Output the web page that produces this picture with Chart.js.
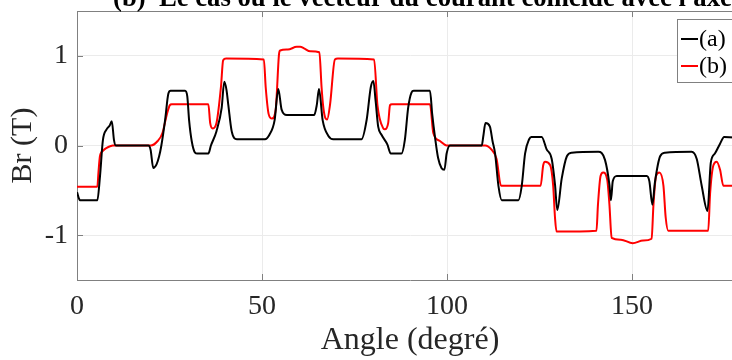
<!DOCTYPE html>
<html>
<head>
<meta charset="utf-8">
<script src="https://cdn.jsdelivr.net/npm/chart.js@4/dist/chart.umd.min.js"></script>
<style>
  html, body { margin: 0; padding: 0; overflow: hidden; background: #fff; }
  canvas { display: block; }
</style>
</head>
<body>
<canvas id="brChart" width="760" height="360"></canvas>
<script>
// Data (angle in degrees, Br in tesla)
const angleA = [0, 0.8, 5.5, 6.2, 7.0, 8.0, 8.8, 9.4, 10.0, 10.5, 19.3, 19.9, 20.6, 21.5, 22.2, 22.8, 23.8, 24.7, 25.3,
  29.2, 29.8, 30.3, 31.0, 31.9, 32.5, 35.5, 36.2, 37.7, 39.1, 39.8, 40.4, 40.9, 41.8, 43.2, 50.8, 52.0, 53.4, 54.4,
  55.3, 56.7, 64.1, 64.8, 65.4, 66.4, 67.9, 69.3, 76.9, 78.3, 79.4, 80.1, 80.7, 81.4, 82.3, 83.9, 84.8, 87.7, 88.6,
  89.5, 90.4, 91.0, 95.4, 96.0, 96.8, 97.6, 98.5, 99.3, 99.9, 100.8, 109.4, 109.8, 110.4, 111.6, 112.3, 113.0, 113.9,
  114.8, 119.3, 120.2, 121.1, 122.2, 122.8, 125.6, 126.9, 128.3, 129.2, 129.8, 131.0, 132.4, 133.7, 140.9, 142.7,
  143.9, 144.3, 144.8, 145.9, 154.0, 154.7, 155.5, 156.2, 157.6, 158.9, 166.1, 167.5, 168.8, 170.4, 171.3, 172.4,
  173.8, 174.9, 177.7, 178.6, 179.5, 180];
const brA = [-0.52, -0.61, -0.61, -0.35, 0.06, 0.18, 0.22, 0.27, 0.06, 0.0, 0.0, -0.05, -0.25, -0.21, -0.12, 0.0, 0.28, 0.58, 0.61,
  0.61, 0.55, 0.28, 0.05, -0.08, -0.09, -0.09, 0.0, 0.16, 0.42, 0.71, 0.62, 0.45, 0.16, 0.07, 0.07, 0.12, 0.28, 0.63,
  0.40, 0.34, 0.34, 0.45, 0.63, 0.28, 0.11, 0.07, 0.07, 0.29, 0.65, 0.72, 0.50, 0.21, 0.12, 0.01, -0.09, -0.09, 0.06,
  0.42, 0.59, 0.61, 0.61, 0.35, 0.08, -0.14, -0.25, -0.27, -0.09, 0.0, 0.0, 0.10, 0.25, 0.21, 0.05, -0.09, -0.45,
  -0.61, -0.61, -0.45, -0.09, 0.07, 0.095, 0.095, -0.04, -0.15, -0.44, -0.72, -0.37, -0.12, -0.08, -0.07, -0.16,
  -0.44, -0.61, -0.40, -0.34, -0.34, -0.40, -0.66, -0.41, -0.12, -0.08, -0.07, -0.15, -0.44, -0.73, -0.19, -0.09,
  0.02, 0.095, 0.09, -0.06, -0.42, -0.52];

const angleB = [0, 5.5, 5.8, 6.2, 7.0, 7.9, 9.7, 20.0, 21.8, 23.1, 24.3, 25.1, 25.6, 35.5, 36.0, 36.7, 37.7, 38.9, 39.5,
  40.3, 50.5, 51.0, 51.8, 52.7, 53.7, 54.6, 54.9, 57.0, 59.4, 60.3, 61.5, 63.0, 65.5, 66.1, 66.5, 67.0, 67.6, 68.4,
  69.7, 70.5, 80.3, 81.2, 82.8, 83.2, 84.1, 84.6, 85.1, 95.4, 96.3, 98.1, 99.9, 110.3, 112.1, 113.4, 114.6, 125.3,
  126.0, 126.5, 127.9, 128.7, 129.2, 129.6, 140.4, 140.8, 141.5, 142.2, 143.3, 143.9, 144.5, 147.0, 150.2, 153.0,
  155.3, 155.8, 156.5, 157.4, 158.5, 159.1, 159.8, 170.6, 171.1, 172.0, 172.9, 173.8, 174.7, 180];
const brB = [-0.46, -0.46, -0.30, -0.12, -0.06, -0.03, 0.0, 0.0, 0.05, 0.14, 0.35, 0.45, 0.46, 0.46, 0.25, 0.19, 0.25, 0.65, 0.95,
  0.97, 0.96, 0.65, 0.35, 0.30, 0.40, 1.02, 1.06, 1.07, 1.10, 1.10, 1.08, 1.05, 1.04, 0.65, 0.45, 0.32, 0.29, 0.46,
  0.96, 0.97, 0.96, 0.45, 0.19, 0.18, 0.25, 0.45, 0.46, 0.46, 0.14, 0.05, 0.0, 0.0, -0.05, -0.15, -0.45, -0.45,
  -0.22, -0.18, -0.22, -0.45, -0.81, -0.96, -0.95, -0.66, -0.34, -0.30, -0.38, -0.66, -1.03, -1.05, -1.09, -1.06,
  -1.04, -0.66, -0.34, -0.30, -0.45, -0.80, -0.95, -0.95, -0.54, -0.22, -0.18, -0.27, -0.45, -0.45];

const seriesLabels = ['(a)', '(b)'];
const seriesColors = ['#000000', '#ff0000'];
const xTicks = [0, 50, 100, 150];
const yTicks = [-1, 0, 1];
const titleText = "(b)  Le cas où le vecteur du courant coïncide avec l'axe";
const xLabel = 'Angle (degré)';
const yLabel = 'Br (T)';

const serif = '"Liberation Serif", "Times New Roman", serif';
const axisGrey = '#808080';

function toPoints(xs, ys) {
  return xs.map((x, i) => ({ x: x, y: ys[i] }));
}

// Frame, inward ticks, cut-off title and boxed legend
const decor = {
  id: 'decor',
  afterDraw(chart) {
    const { ctx, chartArea: a, scales: { x, y } } = chart;
    ctx.save();
    ctx.strokeStyle = axisGrey;
    ctx.lineWidth = 1;
    ctx.beginPath();
    ctx.moveTo(a.left, a.top + 0.5);
    ctx.lineTo(a.right, a.top + 0.5);
    ctx.moveTo(a.right - 0.5, a.top);
    ctx.lineTo(a.right - 0.5, a.bottom);
    xTicks.forEach(v => {
      const px = Math.round(x.getPixelForValue(v)) + 0.5;
      ctx.moveTo(px, a.bottom); ctx.lineTo(px, a.bottom - 6);
      ctx.moveTo(px, a.top); ctx.lineTo(px, a.top + 6);
    });
    yTicks.forEach(v => {
      const py = Math.round(y.getPixelForValue(v)) + 0.5;
      ctx.moveTo(a.left, py); ctx.lineTo(a.left + 6, py);
      ctx.moveTo(a.right, py); ctx.lineTo(a.right - 6, py);
    });
    ctx.stroke();

    // title (only its lower part fits in the picture)
    ctx.fillStyle = '#000';
    ctx.font = 'bold 26.7px ' + serif;
    ctx.textAlign = 'left';
    ctx.textBaseline = 'alphabetic';
    ctx.fillText(titleText, 113, 6);

    // legend
    const bx = 677.5, by = 19.5, bw = 62, bh = 63;
    ctx.fillStyle = '#fff';
    ctx.fillRect(bx, by, bw, bh);
    ctx.strokeStyle = axisGrey;
    ctx.strokeRect(bx, by, bw, bh);
    ctx.font = '24px ' + serif;
    ctx.textBaseline = 'middle';
    chart.data.datasets.forEach((ds, i) => {
      const ly = 39 + i * 27;
      ctx.strokeStyle = ds.borderColor;
      ctx.lineWidth = 2;
      ctx.beginPath();
      ctx.moveTo(681, ly);
      ctx.lineTo(698, ly);
      ctx.stroke();
      ctx.fillStyle = '#000';
      ctx.fillText(ds.label, 699, ly + 1);
    });
    ctx.restore();
  }
};

const ctx = document.getElementById('brChart').getContext('2d');
const chart = new Chart(ctx, {
  type: 'line',
  data: {
    datasets: [
      { label: seriesLabels[0], data: toPoints(angleA, brA), borderColor: seriesColors[0], borderWidth: 2, pointRadius: 0, cubicInterpolationMode: 'monotone' },
      { label: seriesLabels[1], data: toPoints(angleB, brB), borderColor: seriesColors[1], borderWidth: 2, pointRadius: 0, cubicInterpolationMode: 'monotone' }
    ]
  },
  options: {
    responsive: false,
    animation: false,
    layout: { padding: { top: 11, right: 17, left: 0, bottom: 0 } },
    plugins: {
      legend: { display: false },
      tooltip: { enabled: false }
    },
    scales: {
      x: {
        type: 'linear',
        min: 0,
        max: 180,
        afterBuildTicks: s => { s.ticks = xTicks.map(v => ({ value: v })); },
        afterFit: s => { s.height = 80; s.paddingLeft = 0; s.paddingRight = 0; },
        grid: { color: '#ebebeb', drawTicks: false },
        border: { color: axisGrey, width: 1 },
        ticks: { color: '#262626', font: { family: serif, size: 28 }, padding: 10, maxRotation: 0 },
        title: { display: true, text: xLabel, color: '#262626', font: { family: serif, size: 32 }, padding: { top: 0, bottom: 0 } }
      },
      y: {
        min: -1.5,
        max: 1.5,
        afterBuildTicks: s => { s.ticks = yTicks.map(v => ({ value: v })); },
        afterFit: s => { s.width = 77; s.paddingTop = 0; s.paddingBottom = 0; },
        grid: { color: '#ebebeb', drawTicks: false },
        border: { color: axisGrey, width: 1 },
        ticks: { color: '#262626', font: { family: serif, size: 28 }, padding: 9 },
        title: { display: true, text: yLabel, color: '#262626', font: { family: serif, size: 30 }, padding: { top: 5, bottom: 0 } }
      }
    }
  },
  plugins: [decor]
});
</script>
</body>
</html>
